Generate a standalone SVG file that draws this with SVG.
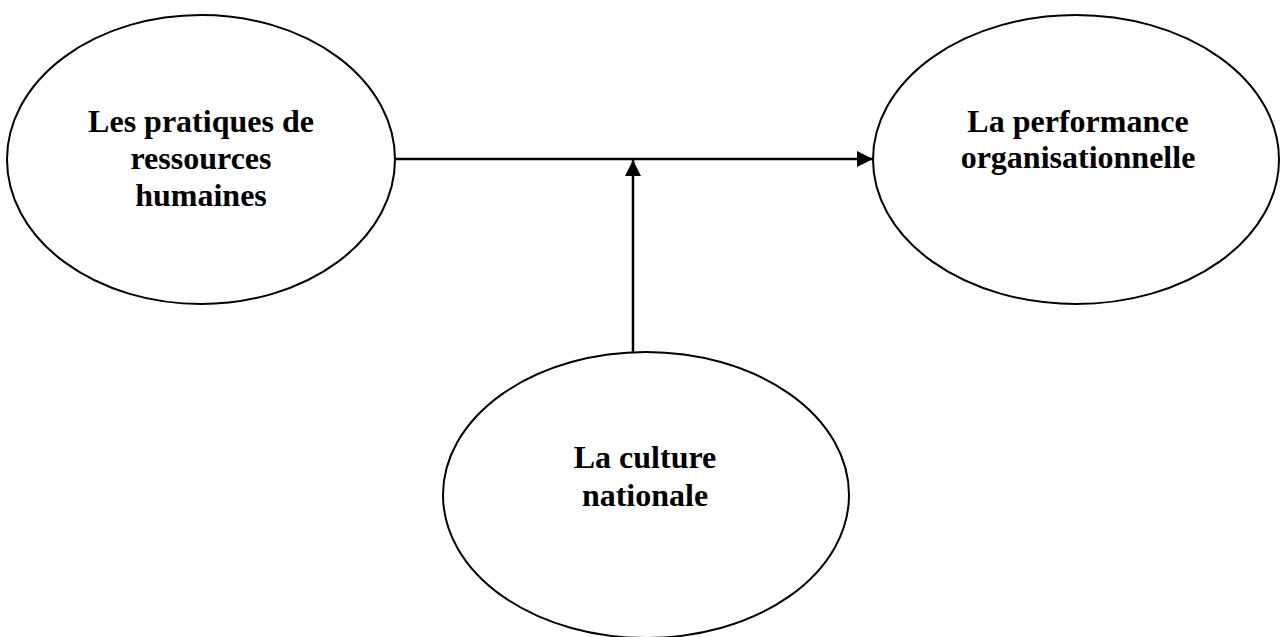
<svg xmlns="http://www.w3.org/2000/svg" width="1280" height="637" viewBox="0 0 1280 637">
  <style>
    .node ellipse { fill: #ffffff; stroke: #000000; stroke-width: 2; }
    .label { font-family: "Liberation Serif", "Times New Roman", serif; font-weight: bold; font-size: 32px; fill: #000000; text-anchor: middle; }
    .edge { stroke: #000000; stroke-width: 2.5; fill: none; }
  </style>
  <defs>
    <marker id="arrow" viewBox="0 0 16 16" refX="16" refY="8" markerWidth="16" markerHeight="16" markerUnits="userSpaceOnUse" orient="auto">
      <path d="M0,0 L16,8 L0,16 Z" fill="#000000"/>
    </marker>
  </defs>
  <rect width="1280" height="637" fill="#ffffff"/>
  <g id="node-pratiques" class="node">
    <ellipse cx="201" cy="159.5" rx="194" ry="144.5"/>
    <text class="label" x="201" y="132">Les pratiques de</text>
    <text class="label" x="201" y="169">ressources</text>
    <text class="label" x="201" y="206">humaines</text>
  </g>
  <g id="node-performance" class="node">
    <ellipse cx="1076" cy="159.5" rx="203" ry="144.5"/>
    <text class="label" x="1078" y="132">La performance</text>
    <text class="label" x="1078" y="168">organisationnelle</text>
  </g>
  <g id="node-culture" class="node">
    <ellipse cx="646" cy="495" rx="203" ry="143"/>
    <text class="label" x="645" y="468">La culture</text>
    <text class="label" x="645" y="506">nationale</text>
  </g>
  <g id="connectors">
    <line class="edge" x1="395" y1="159" x2="873" y2="159" marker-end="url(#arrow)"/>
    <line class="edge" x1="633" y1="352" x2="633" y2="160" marker-end="url(#arrow)"/>
  </g>
</svg>
